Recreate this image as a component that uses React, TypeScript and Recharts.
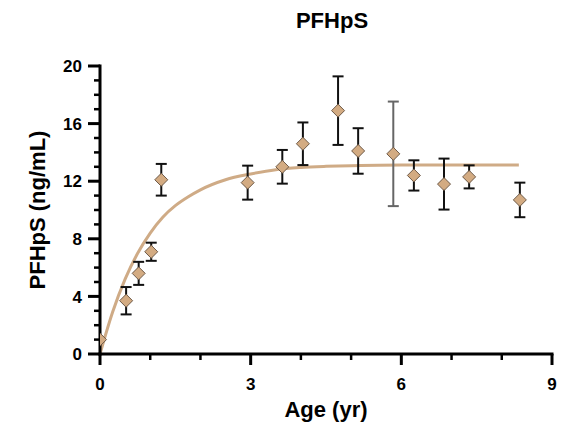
import { ComposedChart, Line, Scatter, ErrorBar, XAxis, YAxis } from 'recharts'

const ages = [0, 0.52, 0.77, 1.02, 1.22, 2.94, 3.63, 4.04, 4.74, 5.14, 5.84, 6.25, 6.85, 7.35, 8.36]
const means = [1.0, 3.7, 5.6, 7.1, 12.1, 11.9, 13.0, 14.6, 16.9, 14.1, 13.9, 12.4, 11.8, 12.3, 10.7]
const sds = [0, 0.95, 0.8, 0.63, 1.1, 1.18, 1.17, 1.48, 2.38, 1.58, 3.63, 1.05, 1.77, 0.8, 1.2]
// this one has a grey error bar in the original
const greyAge = 5.84

const fitAges = [0, 0.25, 0.5, 0.75, 1, 1.25, 1.5, 1.75, 2, 2.5, 3, 3.5, 4, 4.5, 5, 6, 7, 8.34]
const fitValues = [0, 2.9, 5.2, 7.0, 8.4, 9.5, 10.3, 10.9, 11.4, 12.1, 12.5, 12.8, 12.95, 13.03, 13.08, 13.12, 13.13, 13.13]

const xTicks = [0, 1, 2, 3, 4, 5, 6, 7, 8, 9]
const yTicks = Array.from({ length: 21 }, (_, i) => i)

const FONT = '"Liberation Sans", Arial, sans-serif'
const FILL = '#d3ab82'
const CURVE = '#cfab86'

const points = ages.map((x, i) => ({ x, y: means[i], err: sds[i] }))
const blackPts = points.filter((p) => p.x !== greyAge)
const greyPts = points.filter((p) => p.x === greyAge)
const fit = fitAges.map((x, i) => ({ x, y: fitValues[i] }))

function Diamond(props: any) {
  const { cx, cy } = props
  const r = 6.5
  return (
    <polygon
      points={`${cx},${cy - r} ${cx + r},${cy} ${cx},${cy + r} ${cx - r},${cy}`}
      fill={FILL}
      stroke="#6e5a48"
      strokeWidth={1}
    />
  )
}

function XTick(props: any) {
  const { x, y, payload } = props
  const major = payload.value % 3 === 0
  return (
    <g>
      <line x1={x} x2={x} y1={y} y2={y + (major ? 11 : 6)} stroke="#000" strokeWidth={major ? 3 : 2.5} />
      {major && (
        <text x={x} y={y + 36} textAnchor="middle" fontSize={17} fontWeight="bold" fontFamily={FONT} fill="#000">
          {payload.value}
        </text>
      )}
    </g>
  )
}

function YTick(props: any) {
  const { x, y, payload } = props
  const major = payload.value % 4 === 0
  return (
    <g>
      <line x1={x} x2={x - (major ? 12 : 6)} y1={y} y2={y} stroke="#000" strokeWidth={major ? 3 : 2.5} />
      {major && (
        <text x={x - 18} y={y} dy="0.36em" textAnchor="end" fontSize={17} fontWeight="bold" fontFamily={FONT} fill="#000">
          {payload.value}
        </text>
      )}
    </g>
  )
}

const labelStyle = { position: 'absolute' as const, fontFamily: FONT, fontWeight: 'bold' as const, fontSize: 22, color: '#000', whiteSpace: 'nowrap' as const }

export default function App() {
  return (
    <div style={{ position: 'absolute', left: 0, top: 0, width: 578, height: 430, background: '#fff' }}>
      <div style={{ ...labelStyle, left: 332, top: 21, transform: 'translate(-50%, -50%)' }}>PFHpS</div>
      <div style={{ ...labelStyle, left: 38, top: 210, transform: 'translate(-50%, -50%) rotate(-90deg)' }}>PFHpS (ng/mL)</div>
      <div style={{ ...labelStyle, left: 326, top: 410, transform: 'translate(-50%, -50%)' }}>Age (yr)</div>
      <ComposedChart width={578} height={430} margin={{ top: 66, right: 26, bottom: 0, left: 0 }}>
        <XAxis
          type="number"
          dataKey="x"
          domain={[0, 9]}
          ticks={xTicks}
          interval={0}
          height={76}
          tickSize={0}
          tickMargin={0}
          tickLine={false}
          tick={<XTick />}
          axisLine={{ stroke: '#000', strokeWidth: 3, strokeLinecap: 'square' }}
          allowDataOverflow
        />
        <YAxis
          type="number"
          dataKey="y"
          domain={[0, 20]}
          ticks={yTicks}
          interval={0}
          width={100}
          tickSize={0}
          tickMargin={0}
          tickLine={false}
          tick={<YTick />}
          axisLine={{ stroke: '#000', strokeWidth: 3, strokeLinecap: 'square' }}
          allowDataOverflow
        />
        <Line data={fit} dataKey="y" type="monotone" stroke={CURVE} strokeWidth={3} dot={false} activeDot={false} isAnimationActive={false} />
        <Scatter data={greyPts} dataKey="y" shape={<Diamond />} isAnimationActive={false}>
          <ErrorBar dataKey="err" direction="y" width={5.5} stroke="#666" strokeWidth={2} />
        </Scatter>
        <Scatter data={blackPts} dataKey="y" shape={<Diamond />} isAnimationActive={false}>
          <ErrorBar dataKey="err" direction="y" width={5.5} stroke="#111" strokeWidth={2} />
        </Scatter>
      </ComposedChart>
    </div>
  )
}
